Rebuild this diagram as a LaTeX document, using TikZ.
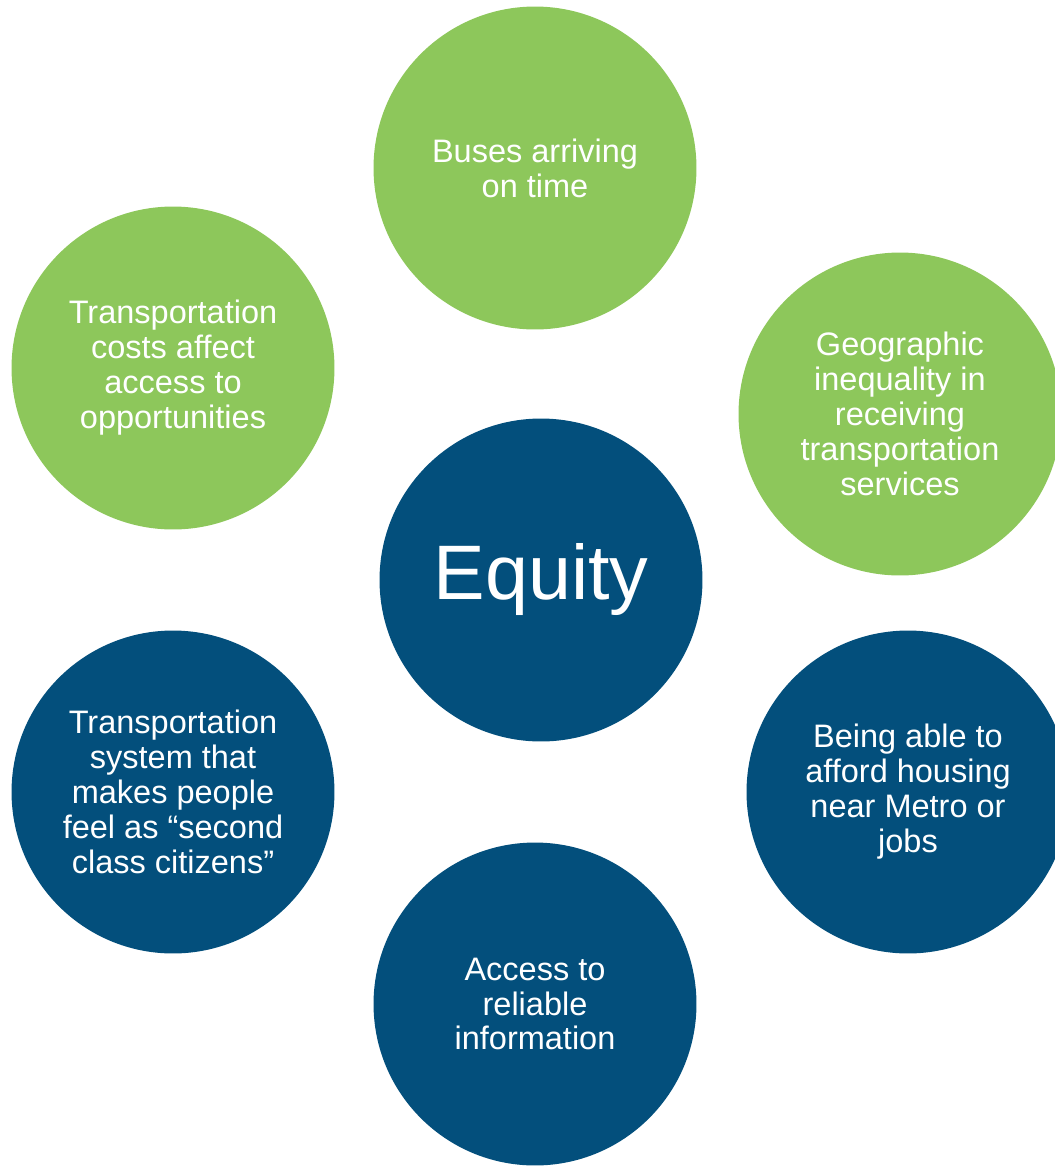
\documentclass[tikz,border=0pt]{standalone}
\usepackage{fontspec}
\setmainfont{Liberation Sans}
\usetikzlibrary{positioning}

\definecolor{bubblegreen}{HTML}{8DC75B}
\definecolor{bubbleblue}{HTML}{034F7C}

\begin{document}
\begin{tikzpicture}[
    x=0.02cm, y=-0.02cm,
    bubble/.style={circle, minimum size=6.46cm, inner sep=0pt, align=center,
        text=white, font=\fontsize{18.5pt}{19.9pt}\selectfont},
    greenbubble/.style={bubble, fill=bubblegreen},
    bluebubble/.style={bubble, fill=bubbleblue}
]

    % Canvas
    \useasboundingbox (0, 0) rectangle (1055, 1167);
    \clip (0, 0) rectangle (1055, 1167);

    % Centre
    \node[bluebubble, font=\fontsize{44pt}{48pt}\selectfont] (equity) at (541, 580) {Equity};

    % Green topics
    \node[greenbubble] (buses) at (535, 168) {Buses arriving\\on time};
    \node[greenbubble] (costs) at (173, 368) {Transportation\\costs affect\\access to\\opportunities};
    \node[greenbubble] (geo) at (900, 414) {Geographic\\inequality in\\receiving\\transportation\\services};

    % Blue topics
    \node[bluebubble] (system) at (173, 792) {Transportation\\system that\\makes people\\feel as ``second\\class citizens''};
    \node[bluebubble] (housing) at (908, 792) {Being able to\\afford housing\\near Metro or\\jobs};
    \node[bluebubble] (info) at (535, 1004) {Access to\\reliable\\information};
\end{tikzpicture}
\end{document}
